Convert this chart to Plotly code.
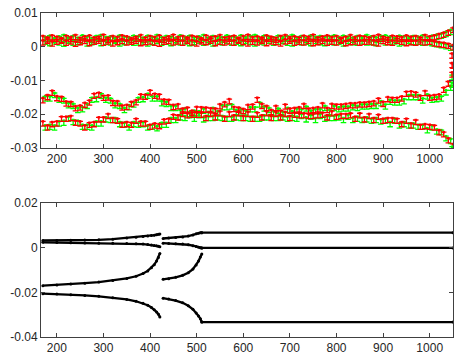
import plotly.graph_objects as go

S = 1e-3  # values below are in units of 1e-3

# ---------------- top panel data (red at x=170..1050 step 10, green at 175..1045) ----------------
red_L1 = [-15.2, -14.3, -13.0, -14.6, -14.8, -16.2, -16.3, -17.6, -17.4, -16.6,
          -15.9, -13.9, -13.6, -14.5, -14.4, -16.0, -16.1, -17.4, -17.2, -16.3,
          -15.8, -14.1, -14.2, -12.9, -13.9, -14.1, -15.6, -15.7, -17.2, -17.0,
          -18.3, -18.0, -18.9, -17.8, -17.9, -18.0, -18.2, -18.3, -17.0, -16.4,
          -15.5, -17.8, -18.0, -18.4, -17.2, -17.1, -15.1, -16.9, -17.5, -18.7,
          -17.5, -18.9, -17.1, -18.3, -18.1, -17.9, -16.9, -18.3, -18.1, -17.9,
          -16.7, -18.1, -16.9, -17.1, -17.1, -16.9, -16.7, -16.7, -16.5, -16.5,
          -16.3, -16.1, -15.3, -16.3, -14.9, -15.1, -15.1, -14.7, -13.3, -13.2,
          -13.5, -14.5, -13.1, -14.5, -14.3, -14.1, -12.1, -10.3, -5.0]
red_L2 = [-22.1, -23.3, -22.3, -22.1, -20.7, -20.7, -20.5, -21.9, -22.1, -23.3,
          -22.5, -22.3, -20.9, -20.9, -19.9, -21.1, -21.3, -22.5, -22.3, -22.5,
          -21.3, -22.1, -22.1, -23.1, -22.7, -22.9, -21.5, -21.3, -20.1, -20.3,
          -19.3, -19.7, -19.5, -19.5, -19.5, -20.5, -19.3, -20.3, -19.1, -20.7,
          -19.3, -20.3, -19.1, -20.5, -19.3, -20.7, -19.5, -20.3, -19.1, -20.5,
          -19.3, -20.3, -19.3, -20.5, -19.5, -19.7, -19.7, -19.9, -19.9, -19.7,
          -19.5, -20.3, -19.1, -20.1, -19.9, -19.9, -19.7, -20.7, -19.7, -20.9,
          -19.9, -21.1, -20.1, -21.3, -21.1, -21.1, -21.3, -22.3, -21.3, -22.7,
          -21.7, -23.1, -22.9, -23.1, -23.3, -24.7, -25.3, -27.1, -28.8]
red_U1 = [3.2, 2.8, 3.4, 3.0, 2.6, 3.3, 2.9, 3.5, 2.7, 3.1,
          3.4, 2.8, 3.0, 3.6, 2.7, 3.2, 2.9, 3.4, 3.1, 2.6,
          3.0, 3.5, 2.8, 3.2, 2.9, 3.4, 2.7, 3.1, 3.6, 2.9,
          3.2, 2.8, 3.3, 3.0, 2.6, 3.4, 2.9, 3.1, 3.5, 2.8,
          3.0, 3.3, 2.7, 3.2, 3.6, 2.9, 3.1, 2.8, 3.4, 3.0,
          2.7, 3.2, 3.5, 2.9, 3.1, 2.8, 3.3, 3.0, 3.6, 2.8,
          3.1, 3.4, 2.9, 3.2, 2.7, 3.0, 3.5, 2.9, 3.3, 3.1,
          2.8, 3.2, 3.6, 3.0, 2.7, 3.3, 3.1, 2.9, 3.4, 3.0,
          3.2, 2.8, 3.5, 3.1, 3.4, 3.8, 4.2, 4.8, 5.6]
red_U2 = [1.9, 2.3, 1.6, 2.1, 2.4, 1.8, 2.2, 1.5, 2.0, 2.3,
          1.7, 2.1, 2.4, 1.8, 2.2, 1.6, 2.0, 2.3, 1.9, 2.1,
          2.4, 1.7, 2.0, 2.2, 1.8, 1.5, 2.1, 2.3, 1.9, 2.2,
          1.8, 2.3, 1.9, 1.6, 2.2, 2.0, 2.4, 1.7, 2.1, 1.9,
          2.2, 1.8, 2.4, 2.0, 1.6, 2.1, 1.9, 2.3, 1.7, 2.2,
          2.0, 1.6, 2.2, 2.4, 1.8, 2.1, 1.9, 2.3, 1.7, 2.0,
          2.3, 1.8, 2.1, 1.9, 2.4, 1.7, 2.0, 2.2, 1.8, 2.1,
          2.2, 1.9, 1.6, 2.3, 2.0, 1.8, 2.4, 2.1, 1.7, 2.0,
          1.8, 2.2, 1.9, 2.1, 1.6, 1.4, 1.2, 0.9, 0.5]

green_L1 = [-14.7, -14.7, -13.7, -15.1, -15.3, -16.7, -16.9, -18.1, -17.9, -16.9,
            -15.1, -14.9, -13.9, -15.1, -15.3, -16.7, -16.9, -18.1, -17.3, -16.5,
            -15.1, -14.9, -13.9, -14.7, -14.7, -16.1, -16.3, -17.5, -17.5, -18.7,
            -18.3, -19.3, -18.9, -19.1, -18.3, -19.3, -18.1, -19.1, -17.3, -17.3,
            -17.1, -18.7, -18.5, -18.9, -17.9, -17.9, -16.5, -17.7, -18.1, -19.1,
            -18.3, -19.3, -18.1, -19.1, -18.3, -18.5, -17.7, -18.9, -18.5, -18.5,
            -17.5, -18.7, -17.5, -17.9, -17.7, -17.7, -17.3, -17.5, -17.1, -17.1,
            -16.9, -16.9, -16.1, -17.1, -15.7, -15.9, -15.9, -15.5, -14.3, -14.3,
            -14.3, -15.3, -14.1, -15.1, -14.9, -14.7, -12.9, -11.5]
green_L2 = [-23.3, -23.1, -23.3, -22.1, -21.9, -20.7, -21.7, -21.9, -23.1, -23.1,
            -23.3, -22.1, -22.1, -20.9, -21.1, -21.1, -22.3, -22.5, -23.3, -22.3,
            -22.5, -22.3, -23.3, -23.1, -23.5, -22.5, -22.5, -21.1, -21.1, -20.3,
            -20.5, -19.7, -20.7, -19.7, -20.9, -20.5, -20.5, -20.3, -20.5, -20.7,
            -20.7, -20.3, -20.5, -20.5, -20.7, -20.7, -20.7, -20.3, -20.3, -20.5,
            -20.5, -20.3, -20.7, -20.5, -20.7, -19.9, -20.9, -20.1, -21.1, -19.9,
            -20.7, -20.5, -20.5, -20.3, -21.1, -20.1, -21.1, -20.7, -21.1, -20.9,
            -21.3, -21.1, -21.5, -21.3, -22.3, -21.3, -22.7, -22.3, -22.7, -22.7,
            -23.1, -23.1, -24.1, -23.3, -24.5, -24.7, -26.5, -27.3]
green_U1 = [2.9, 3.3, 2.6, 3.1, 3.5, 2.8, 3.2, 2.7, 3.4, 3.0,
            2.6, 3.2, 3.5, 2.9, 3.1, 2.7, 3.4, 3.0, 2.8, 3.3,
            3.1, 2.7, 3.3, 2.9, 3.5, 2.8, 3.2, 3.0, 2.6, 3.4,
            2.9, 3.3, 2.8, 3.1, 3.5, 2.7, 3.2, 3.0, 2.8, 3.4,
            3.1, 2.8, 3.4, 2.9, 3.2, 3.5, 2.7, 3.3, 3.0, 2.8,
            3.3, 2.9, 3.1, 3.5, 2.8, 3.2, 2.7, 3.4, 3.0, 3.2,
            2.9, 3.1, 3.4, 2.8, 3.3, 3.0, 2.7, 3.2, 2.9, 3.5,
            3.1, 2.8, 3.2, 3.4, 3.0, 2.7, 3.3, 3.1, 2.9, 3.2,
            3.0, 3.4, 2.9, 3.3, 3.6, 3.9, 4.4, 5.0]
green_U2 = [2.1, 1.7, 2.2, 1.9, 1.5, 2.3, 1.8, 2.0, 2.4, 1.6,
            2.0, 2.3, 1.7, 2.1, 1.9, 2.4, 1.6, 2.0, 2.2, 1.8,
            1.9, 2.2, 1.6, 2.0, 2.3, 1.8, 2.1, 1.7, 2.2, 1.9,
            2.2, 1.7, 2.0, 2.4, 1.8, 2.1, 1.6, 2.2, 1.9, 2.3,
            1.8, 2.1, 1.7, 2.3, 2.0, 1.6, 2.2, 1.9, 2.4, 1.8,
            2.1, 2.3, 1.8, 1.6, 2.2, 1.9, 2.1, 1.7, 2.3, 2.0,
            1.7, 2.2, 1.9, 2.1, 1.6, 2.3, 2.0, 1.8, 2.2, 1.9,
            2.0, 1.7, 2.3, 1.9, 2.1, 2.2, 1.6, 1.9, 2.3, 2.0,
            2.1, 1.8, 2.0, 1.7, 1.4, 1.1, 0.8, 0.3]

edge_x = [1048, 1048, 1048]
edge_red = [-4.8, -7.6, -2.0]
edge_green = [-8.4, -10.6, -29.6]

x_red = [170 + 10 * i for i in range(len(red_L1))]
x_green = [175 + 10 * i for i in range(len(green_L1))]

# ---------------- bottom panel data ----------------
seg1_x = [170, 200, 230, 260, 290, 320, 350, 370, 385, 395, 403, 409, 414, 418, 421]
seg1_A = [3.2, 3.2, 3.3, 3.4, 3.5, 3.8, 4.3, 4.7, 5.0, 5.2, 5.4, 5.6, 5.8, 6.0, 6.1]
seg1_B = [2.4, 2.3, 2.2, 2.1, 2.0, 2.0, 1.9, 1.8, 1.6, 1.4, 1.2, 1.0, 0.8, 0.6, 0.4]
seg1_C = [-17.0, -16.7, -16.3, -15.9, -15.4, -14.7, -13.8, -12.8, -11.6, -10.4, -9.0, -7.6, -6.0, -4.4, -2.6]
seg1_D = [-20.6, -20.8, -21.1, -21.4, -21.8, -22.4, -23.2, -24.0, -24.9, -25.8, -26.8, -27.8, -28.8, -29.8, -31.0]

seg2_x = [428, 440, 455, 470, 482, 492, 499, 504, 508, 511]
seg2_A = [4.1, 4.3, 4.5, 4.8, 5.2, 5.7, 6.2, 6.5, 6.7, 6.7]
seg2_B = [2.0, 1.9, 1.8, 1.6, 1.3, 0.9, 0.5, 0.2, 0.0, -0.1]
seg2_C = [-14.2, -13.9, -13.3, -12.4, -11.2, -9.6, -7.8, -6.0, -4.2, -2.8]
seg2_D = [-22.6, -23.0, -23.7, -24.7, -26.0, -27.6, -29.2, -30.6, -31.8, -33.3]

seg3_x = [511, 1050]
seg3_A = [6.7, 6.7]
seg3_B = [-0.1, -0.1]
seg3_D = [-33.3, -33.3]

xticks = [200, 300, 400, 500, 600, 700, 800, 900, 1000]
top_yticks = [-0.03, -0.02, -0.01, 0, 0.01]
top_ylabels = ["-0.03", "-0.02", "-0.01", "0", "0.01"]
bot_yticks = [-0.04, -0.02, 0, 0.02]
bot_ylabels = ["-0.04", "-0.02", "0", "0.02"]

fig = go.Figure()

def sc(v):
    return [a * S for a in v]

def add_top(x, y, color):
    fig.add_trace(go.Scatter(
        x=x, y=sc(y), mode="markers", xaxis="x", yaxis="y",
        marker=dict(symbol="square", size=2.5, color=color, line=dict(width=0)),
        error_y=dict(type="constant", symmetric=False, value=0, valueminus=0.0014,
                     color=color, thickness=1.3, width=2.8),
        showlegend=False, hoverinfo="skip"))

for arr in (green_U1, green_U2, green_L1, green_L2):
    add_top(x_green, arr, "#00ff00")
for arr in (red_U1, red_U2, red_L1, red_L2):
    add_top(x_red, arr, "#ff0000")
add_top(edge_x, edge_green, "#00ff00")
add_top(edge_x, edge_red, "#ff0000")

def add_bot(x, y):
    fig.add_trace(go.Scatter(
        x=x, y=sc(y), mode="lines+markers", xaxis="x2", yaxis="y2",
        line=dict(color="black", width=2.3),
        marker=dict(color="black", size=3.0),
        showlegend=False, hoverinfo="skip"))

for arr in (seg1_A, seg1_B, seg1_C, seg1_D):
    add_bot(seg1_x, arr)
for arr in (seg2_A, seg2_B, seg2_C, seg2_D):
    add_bot(seg2_x, arr)
for arr in (seg3_A, seg3_B, seg3_D):
    add_bot(seg3_x, arr)

axcol = "#404040"
font = dict(family="Liberation Sans, Arial, sans-serif", size=12, color="#262626")
common_x = dict(range=[166, 1050], tickvals=xticks, ticks="inside", ticklen=4,
                tickcolor=axcol, showline=True, linecolor=axcol, linewidth=1,
                mirror="allticks", showgrid=False, zeroline=False, tickfont=font)
common_y = dict(ticks="inside", ticklen=4, tickcolor=axcol, showline=True,
                linecolor=axcol, linewidth=1, mirror="allticks", showgrid=False,
                zeroline=False, tickfont=font)

fig.update_layout(
    width=455, height=357,
    margin=dict(l=41, r=2, t=13, b=20),
    paper_bgcolor="white", plot_bgcolor="white",
    xaxis=dict(domain=[0, 1], anchor="y", **common_x),
    yaxis=dict(domain=[0.5833, 1.0], anchor="x", range=[-0.03, 0.01],
               tickvals=top_yticks, ticktext=top_ylabels, **common_y),
    xaxis2=dict(domain=[0, 1], anchor="y2", **common_x),
    yaxis2=dict(domain=[0, 0.4136], anchor="x2", range=[-0.04, 0.02],
                tickvals=bot_yticks, ticktext=bot_ylabels, **common_y),
)

fig.write_html("out.html")
